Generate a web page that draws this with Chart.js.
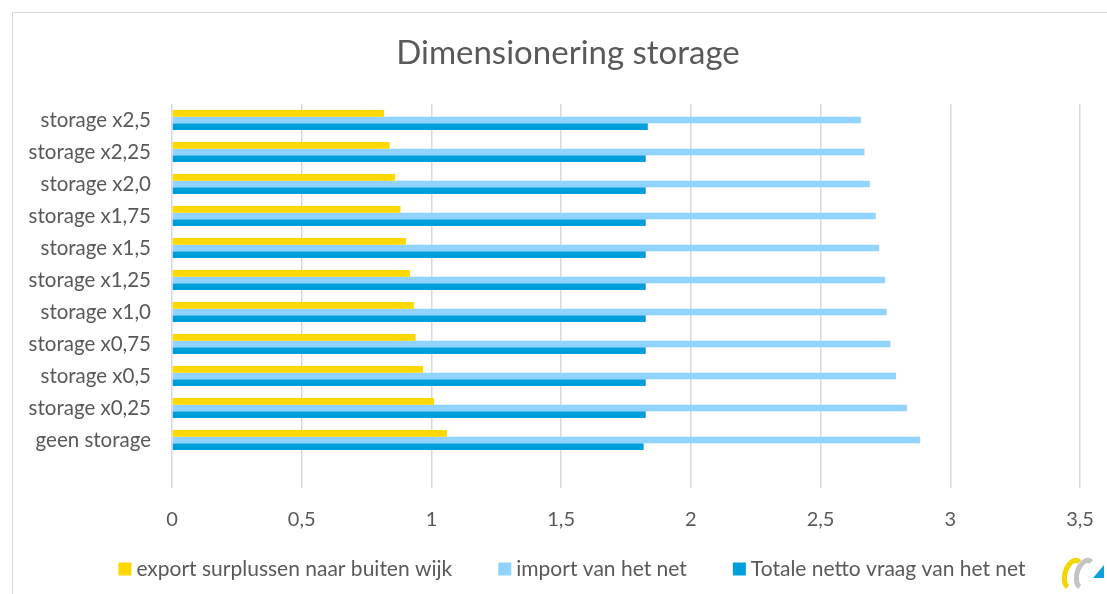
<!DOCTYPE html>
<html>

<head>
  <title>Dimensionering storage</title>
  <script src="https://cdn.jsdelivr.net/npm/chart.js"></script>
  <style>
    body { margin: 0; background: #fff; }
    #wrap { position: relative; width: 1107px; height: 594px; }
    #frame { position: absolute; left: 12px; top: 12px; right: -20px; bottom: -20px; border: 1.5px solid #d9d9d9; }
  </style>
</head>

<body>
  <div id="wrap">
    <div id="frame"></div>
    <canvas id="storageChart" width="1107" height="594"></canvas>
  </div>
  <script>
    // categories, top to bottom (last one left empty as spacer)
    var labels = ['storage x2,5', 'storage x2,25', 'storage x2,0', 'storage x1,75', 'storage x1,5',
      'storage x1,25', 'storage x1,0', 'storage x0,75', 'storage x0,5', 'storage x0,25', 'geen storage', ''];
    var exportSurplus = [0.817, 0.839, 0.860, 0.881, 0.902, 0.917, 0.932, 0.939, 0.968, 1.010, 1.060, null];
    var importNet = [2.655, 2.669, 2.690, 2.713, 2.726, 2.749, 2.755, 2.769, 2.791, 2.833, 2.884, null];
    var nettoVraag = [1.834, 1.826, 1.826, 1.826, 1.826, 1.826, 1.826, 1.826, 1.826, 1.826, 1.818, null];
    var xTicks = [0, 0.5, 1, 1.5, 2, 2.5, 3, 3.5];
    var chartTitle = 'Dimensionering storage';

    var textColor = '#595959';
    var fontFam = 'Lato, "Open Sans", sans-serif';

    // title centred over the whole frame, legend row under the x axis
    var titleAndLegend = {
      id: 'titleAndLegend',
      afterDraw: function (chart) {
        var c = chart.ctx;
        c.save();
        c.fillStyle = textColor;
        c.textAlign = 'center';
        c.textBaseline = 'middle';
        c.font = '33px ' + fontFam;
        c.fillText(chartTitle, 568, 53);

        var box = 13, gapText = 5, gapItem = 46, y = 569;
        c.textAlign = 'left';
        c.font = '21px ' + fontFam;
        var items = chart.data.datasets.map(function (ds) {
          return { text: ds.label, color: ds.backgroundColor, w: box + gapText + c.measureText(ds.label).width };
        });
        var total = items.reduce(function (s, it) { return s + it.w; }, 0) + gapItem * (items.length - 1);
        var x = 572 - total / 2;
        items.forEach(function (it) {
          c.fillStyle = it.color;
          c.fillRect(x, y - box / 2, box, box);
          c.fillStyle = textColor;
          c.fillText(it.text, x + box + gapText, y);
          x += it.w + gapItem;
        });
        c.restore();
      }
    };

    // small logo in the lower right corner
    var logoPlugin = {
      id: 'logo',
      afterDraw: function (chart) {
        var c = chart.ctx;
        c.save();
        c.lineWidth = 5;
        c.strokeStyle = '#f2d600';
        c.beginPath();
        c.ellipse(1073, 574, 8, 14, 0.3, Math.PI * 0.55, Math.PI * 1.6);
        c.stroke();
        c.strokeStyle = '#c4c4c4';
        c.beginPath();
        c.ellipse(1085, 574, 8, 14, 0.3, Math.PI * 0.55, Math.PI * 1.6);
        c.stroke();
        c.fillStyle = '#0aa0e0';
        c.beginPath();
        c.moveTo(1104, 565);
        c.lineTo(1104, 578);
        c.lineTo(1093, 578);
        c.closePath();
        c.fill();
        c.restore();
      }
    };

    var ctx = document.getElementById('storageChart').getContext('2d');
    var chart = new Chart(ctx, {
      type: 'bar',
      data: {
        labels: labels,
        datasets: [{
          label: 'export surplussen naar buiten wijk',
          data: exportSurplus,
          backgroundColor: '#ffd800'
        }, {
          label: 'import van het net',
          data: importNet,
          backgroundColor: '#8fd3fe'
        }, {
          label: 'Totale netto vraag van het net',
          data: nettoVraag,
          backgroundColor: '#009fdb'
        }]
      },
      options: {
        indexAxis: 'y',
        responsive: false,
        animation: false,
        categoryPercentage: 0.625,
        barPercentage: 1.0,
        layout: { padding: { left: 0, right: 27, top: 104, bottom: 42 } },
        scales: {
          x: {
            min: 0,
            max: 3.5,
            afterBuildTicks: function (scale) {
              scale.ticks = xTicks.map(function (v) { return { value: v }; });
            },
            afterFit: function (scale) { scale.paddingRight = 0; },
            ticks: {
              color: textColor,
              font: { family: fontFam, size: 20 },
              padding: 20,
              callback: function (value) { return String(value).replace('.', ','); }
            },
            grid: { color: '#d9d9d9', lineWidth: 1.5, drawTicks: false },
            border: { display: false }
          },
          y: {
            afterFit: function (scale) { scale.width = 172; },
            ticks: {
              color: textColor,
              font: { family: fontFam, size: 20.5 },
              padding: 21
            },
            grid: { display: false, drawTicks: false },
            border: { display: false }
          }
        },
        plugins: {
          title: { display: false },
          legend: { display: false },
          tooltip: { enabled: false }
        }
      },
      plugins: [titleAndLegend, logoPlugin]
    });
  </script>
</body>

</html>
